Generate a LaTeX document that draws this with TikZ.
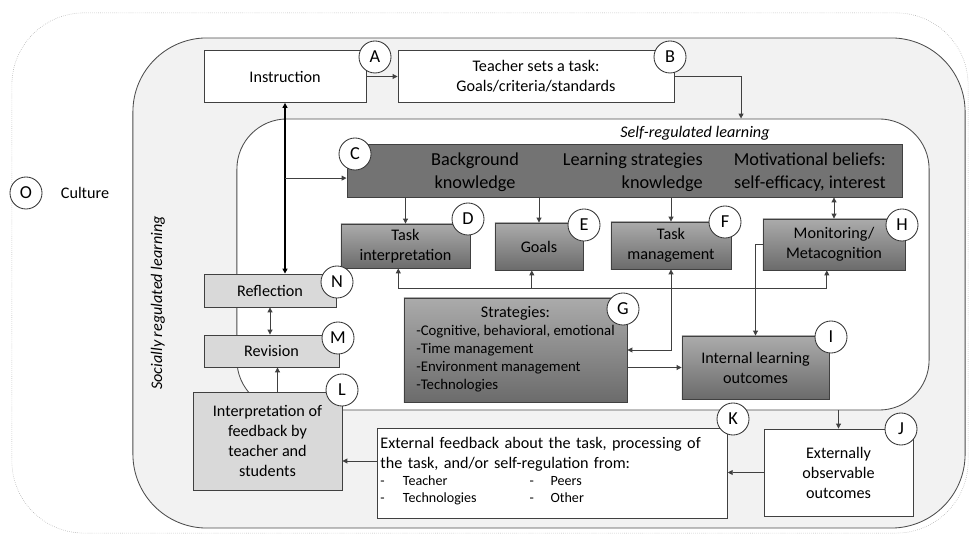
\documentclass[tikz,border=0pt]{standalone}
\usepackage{fontspec}
\setmainfont{Carlito}
\usepackage{tikz}
\usetikzlibrary{arrows.meta,positioning,calc}

\begin{document}
\begin{tikzpicture}[x=0.025cm, y=-0.025cm,
		font=\fontsize{11.5}{14.2}\selectfont,
		whitebox/.style={draw=black!75, fill=white, line width=0.6pt, align=center, inner sep=2pt},
		lightbox/.style={whitebox, fill=black!15},
		darkbox/.style={draw=black!75, top color=black!33, bottom color=black!58, line width=0.6pt, align=center, inner sep=2pt},
		letter/.style={draw=black!80, fill=white, circle, minimum size=0.8cm, inner sep=0pt, line width=0.6pt, font=\fontsize{13}{15}\selectfont},
		arr/.style={-{Triangle[length=3.5pt,width=3.5pt]}, draw=black!75, line width=0.6pt},
		darr/.style={{Triangle[length=3.5pt,width=3.5pt]}-{Triangle[length=3.5pt,width=3.5pt]}, draw=black!75, line width=0.6pt}]
		\useasboundingbox (0,0) rectangle (972,536);

		\node[draw=black!35, densely dotted, rounded corners=1.8cm, minimum width=23.9cm, minimum height=13cm] (culture) at (490,273) {};
		\node[draw=black!70, fill=black!5, line width=0.6pt, rounded corners=1.85cm, minimum width=20.8cm, minimum height=12.25cm] (social) at (549,283) {};
		\node[draw=black!70, fill=white, line width=0.6pt, rounded corners=1.25cm, minimum width=17.3cm, minimum height=7.275cm] (srl) at (583,264.5) {};

		\node[letter] (o) at (26,193) {O};
		\node (culturetext) at (85,193) {Culture};
		\node[rotate=90, font=\fontsize{11.5}{14.2}\selectfont\itshape] (socialtext) at (158,303) {Socially regulated learning};
		\node[font=\fontsize{11.5}{14.2}\selectfont\itshape] (srltext) at (695,133) {Self-regulated learning};

		\node[whitebox, minimum width=4.05cm, minimum height=1.3cm] (A) at (285,76.5) {Instruction};
		\node[whitebox, minimum width=6.9cm, minimum height=1.3cm] (B) at (536,76.5) {Teacher sets a task:\\Goals/criteria/standards};

		\node[draw=black!75, fill=black!55, line width=0.6pt, minimum width=13.875cm, minimum height=1.325cm] (C) at (624.5,170.5) {};
		\node[align=center, inner sep=0pt, font=\fontsize{13}{16.3}\selectfont] (bgk) at (475,172) {Background\\knowledge};
		\node[align=right, anchor=east, inner sep=0pt, font=\fontsize{13}{16.3}\selectfont] (lsk) at (703,172) {Learning strategies\\knowledge};
		\node[align=right, anchor=east, inner sep=0pt, font=\fontsize{13}{16.3}\selectfont] (mbk) at (886,172) {Motivational beliefs:\\self-efficacy, interest};

		\node[darkbox, minimum width=3.225cm, minimum height=1.1cm] (D) at (405.5,246) {Task\\interpretation};
		\node[darkbox, minimum width=2.2cm, minimum height=1.175cm] (E) at (539,246.5) {Goals};
		\node[darkbox, minimum width=3cm, minimum height=1.175cm] (F) at (671,245.5) {Task\\management};
		\node[darkbox, minimum width=3.55cm, minimum height=1.275cm] (H) at (834,244.5) {Monitoring/\\Metacognition};
		\node[darkbox, minimum width=5.575cm, minimum height=2.6cm, font=\fontsize{10.5}{12.8}\selectfont] (G) at (515.5,350) {\begin{tabular}{@{}l@{}}\multicolumn{1}{@{}c@{}}{\fontsize{11.5}{14}\selectfont Strategies:}\\-Cognitive, behavioral, emotional\\-Time management\\-Environment management\\-Technologies\end{tabular}};
		\node[darkbox, minimum width=3.675cm, minimum height=1.575cm] (I) at (755.5,367.5) {Internal learning\\outcomes};

		\node[lightbox, minimum width=3.3cm, minimum height=0.825cm] (N) at (270,290.5) {Reflection};
		\node[lightbox, minimum width=3.375cm, minimum height=0.8cm] (M) at (271.5,351) {Revision};
		\node[lightbox, minimum width=3.725cm, minimum height=2.45cm] (L) at (267.5,441) {Interpretation of\\feedback by\\teacher and\\students};

		\node[whitebox, align=left, text width=8.6cm, minimum height=2.25cm] (K) at (552.5,473) {External feedback about the task, processing of\\the task, and/or self-regulation from:\\{\fontsize{10}{12.5}\selectfont\begin{tabular}{@{}p{16pt}@{}p{90pt}@{}p{15pt}@{}l@{}}-&Teacher&-&Peers\\-&Technologies&-&Other\end{tabular}}};
		\node[whitebox, minimum width=3.725cm, minimum height=2.175cm] (J) at (838.5,472.5) {Externally\\observable\\outcomes};

		\coordinate (bus) at (0,288);

		\draw[arr] (A.east) -- (B.west);
		\draw[arr] (B.east) -| ([xshift=3.95cm]srl.north);
		\draw[darr, line width=1.1pt, draw=black] (A.south) -- (A.south |- N.north);
		\draw[arr] ([yshift=-0.19cm]C.west -| A.south) -- ([yshift=-0.19cm]C.west);

		\draw[arr] (D.north |- C.south) -- (D.north);
		\draw[arr] (E.north |- C.south) -- (E.north);
		\draw[arr] (F.north |- C.south) -- (F.north);
		\draw[darr] (H.north |- C.south) -- (H.north);

		\draw[darr] (G.east) -| (F.south);
		\draw[arr] (bus -| F.south) -| ([xshift=-0.18cm]D.south);
		\draw[arr] (bus -| F.south) -| ([xshift=-0.18cm]H.south);
		\draw[arr] ([xshift=-0.18cm]E.south |- bus) -- ([xshift=-0.18cm]E.south);
		\draw[arr] (H.west) -| (I.north);
		\draw[arr] (I.west -| G.east) -- (I.west);

		\draw[darr] (N.south) -- (N.south |- M.north);
		\draw[arr] ([xshift=0.25cm]L.north) -- ([xshift=0.25cm]L.north |- M.south);

		\draw[arr] (J.north |- srl.south) -- (J.north);
		\draw[arr] (J.west) -- (J.west -| K.east);
		\draw[arr] ([yshift=0.3cm]K.west) -- ([yshift=0.3cm]K.west -| L.east);

		\node[letter] (a) at (375,57) {A};
		\node[letter] (b) at (670,57) {B};
		\node[letter] (c) at (355,154) {C};
		\node[letter] (d) at (468,219) {D};
		\node[letter] (e) at (584,225) {E};
		\node[letter] (f) at (725,222) {F};
		\node[letter] (g) at (623,309) {G};
		\node[letter] (h) at (902,225) {H};
		\node[letter] (i) at (831,337) {I};
		\node[letter] (j) at (901,429) {J};
		\node[letter] (k) at (733,419) {K};
		\node[letter] (l) at (342,390) {L};
		\node[letter] (m) at (338,338) {M};
		\node[letter] (n) at (337,282) {N};
	\end{tikzpicture}
\end{document}
